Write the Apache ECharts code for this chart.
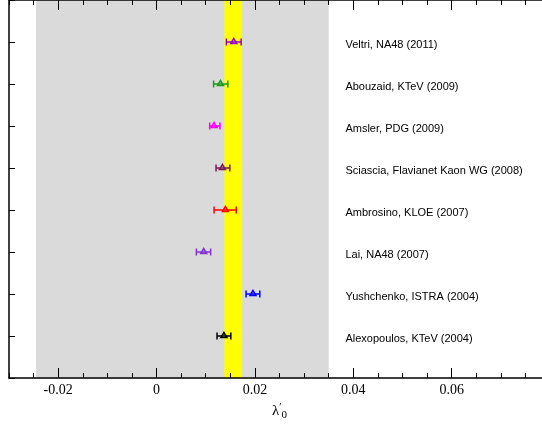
<!DOCTYPE html>
<html><head><meta charset="utf-8">
<script src="https://cdn.jsdelivr.net/npm/echarts@6/dist/echarts.min.js"></script>
<style>html,body{margin:0;padding:0;background:#fff}#c{width:542px;height:426px}</style>
</head><body><div id="c"></div>
<script>
// ---- data ----
const names = ['Alexopoulos, KTeV (2004)', 'Yushchenko, ISTRA (2004)', 'Lai, NA48 (2007)', 'Ambrosino, KLOE (2007)',
  'Sciascia, Flavianet Kaon WG (2008)', 'Amsler, PDG (2009)', 'Abouzaid, KTeV (2009)', 'Veltri, NA48 (2011)'];
const rows = [1, 2, 3, 4, 5, 6, 7, 8];
const values = [0.0137, 0.0196, 0.0096, 0.0140, 0.0134, 0.0117, 0.0130, 0.0157];
const errLow = [0.0123, 0.0182, 0.0081, 0.0117, 0.0121, 0.0108, 0.0116, 0.0142];
const errHigh = [0.0151, 0.0210, 0.0110, 0.0162, 0.0149, 0.0129, 0.0145, 0.0172];
const grayBand = [-0.0245, 0.035];
const yellowBand = [0.0138, 0.0174];
const majorTicks = [-0.02, 0, 0.02, 0.04, 0.06, 0.08];
const tickLabels = [-0.02, 0, 0.02, 0.04, 0.06];
const minorTicks = [];
for (let i = -6; i <= 16; i++) minorTicks.push(+(i * 0.005).toFixed(3));

// ---- styles ----
const colors = ['#000000', '#0000ff', '#7f33cc', '#ff0000', '#7a1a55', '#ff00ff', '#1a9a1a', '#9900cc'];
const labelX = 0.0384;
const X_MIN = -0.03, X_MAX = 0.08;

const seriesData = rows.map((r, i) => [values[i], r, errLow[i], errHigh[i], i]);

function mkX(pos, ticks, len, showLine, labels) {
  return {
    type: 'value', position: pos, min: X_MIN, max: X_MAX, z: 10,
    axisLine: { show: showLine, onZero: false, lineStyle: { color: '#000', width: 1.5 } },
    axisTick: { show: true, inside: true, length: len, customValues: ticks, lineStyle: { color: '#000', width: 1 } },
    axisLabel: labels ? {
      show: true, customValues: labels, margin: 5,
      fontFamily: 'Liberation Serif', fontSize: 14, color: '#000',
      formatter: v => (Math.abs(v) < 1e-9 ? '0' : v.toFixed(2))
    } : { show: false },
    splitLine: { show: false }
  };
}

const xAxes = [
  mkX('bottom', majorTicks, 10, true, tickLabels),
  mkX('bottom', minorTicks, 5, false, null),
  mkX('top', majorTicks, 10, true, null),
  mkX('top', minorTicks, 5, false, null)
];
xAxes[0].name = '{l|λ}{p|′}{s|0}';
xAxes[0].nameLocation = 'middle';
xAxes[0].nameGap = 24;
xAxes[0].nameTextStyle = {
  rich: {
    l: { fontFamily: 'Liberation Serif', fontSize: 15, color: '#000' },
    p: { fontFamily: 'Liberation Serif', fontSize: 10, color: '#000', verticalAlign: 'top', width: 0, padding: [0, 0, 8, 1] },
    s: { fontFamily: 'Liberation Serif', fontSize: 11, color: '#000', verticalAlign: 'bottom', padding: [8, 0, 0, 1] }
  }
};

const chart = echarts.init(document.getElementById('c'), null, { renderer: 'canvas' });
chart.setOption({
  animation: false,
  backgroundColor: '#fff',
  grid: { left: 9, top: 0, width: 541, height: 378, containLabel: false, outerBoundsMode: 'none' },
  xAxis: xAxes,
  yAxis: {
    type: 'value', min: 0, max: 9, interval: 1, z: 10,
    axisLine: { show: true, onZero: false, lineStyle: { color: '#000', width: 1.5 } },
    axisTick: { show: true, inside: true, length: 6, lineStyle: { color: '#000' } },
    axisLabel: { show: false },
    splitLine: { show: false }
  },
  series: [
    {
      type: 'line', data: [], xAxisIndex: 0, z: 1, silent: true,
      markArea: {
        silent: true,
        data: [
          [{ xAxis: grayBand[0], itemStyle: { color: '#dadada' } }, { xAxis: grayBand[1] }],
          [{ xAxis: yellowBand[0], itemStyle: { color: '#ffff00' } }, { xAxis: yellowBand[1] }]
        ]
      }
    },
    {
      type: 'custom', xAxisIndex: 0, z: 5,
      data: seriesData,
      renderItem: function (params, api) {
        const y = api.value(1);
        const c = api.coord([api.value(0), y]);
        const lo = api.coord([api.value(2), y]);
        const hi = api.coord([api.value(3), y]);
        const lab = api.coord([labelX, y]);
        const idx = api.value(4);
        const col = colors[idx];
        const st = { stroke: col, lineWidth: 1.5 };
        return {
          type: 'group',
          children: [
            { type: 'line', shape: { x1: lo[0], y1: c[1], x2: hi[0], y2: c[1] }, style: st },
            { type: 'line', shape: { x1: lo[0], y1: c[1] - 3.5, x2: lo[0], y2: c[1] + 3.5 }, style: st },
            { type: 'line', shape: { x1: hi[0], y1: c[1] - 3.5, x2: hi[0], y2: c[1] + 3.5 }, style: st },
            { type: 'polygon', shape: { points: [[c[0] - 3, c[1] + 1.5], [c[0] + 3, c[1] + 1.5], [c[0], c[1] - 3.5]] },
              style: { stroke: col, fill: 'rgba(0,0,0,0)', lineWidth: 1.5 } },
            { type: 'text', x: lab[0], y: c[1] + 3,
              style: { text: names[idx], fill: '#000', font: '11px "Liberation Sans"', align: 'left', verticalAlign: 'middle' } }
          ]
        };
      }
    }
  ]
});
</script>
</body></html>
